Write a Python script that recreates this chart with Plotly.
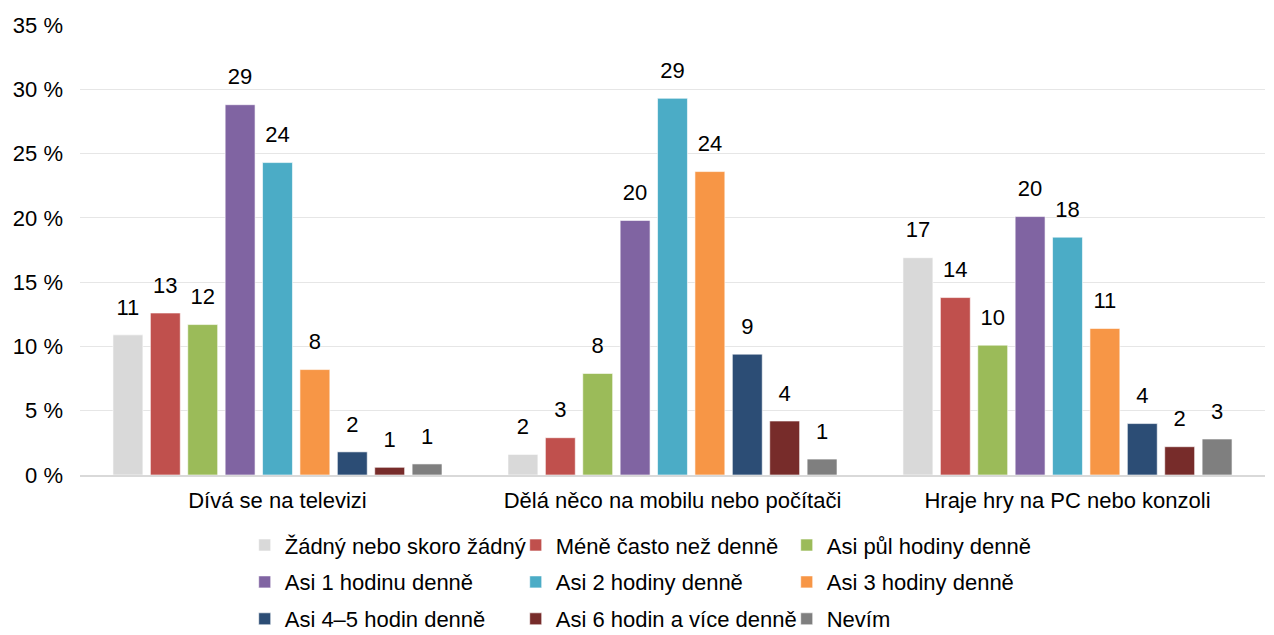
import plotly.graph_objects as go

categories = ["Dívá se na televizi", "Dělá něco na mobilu nebo počítači", "Hraje hry na PC nebo konzoli"]
series_names = [
    "Žádný nebo skoro žádný", "Méně často než denně", "Asi půl hodiny denně",
    "Asi 1 hodinu denně", "Asi 2 hodiny denně", "Asi 3 hodiny denně",
    "Asi 4–5 hodin denně", "Asi 6 hodin a více denně", "Nevím",
]
zadny = [10.9, 1.6, 16.9]
mene = [12.6, 2.9, 13.8]
pul = [11.7, 7.9, 10.1]
h1 = [28.8, 19.8, 20.1]
h2 = [24.3, 29.3, 18.5]
h3 = [8.2, 23.6, 11.4]
h45 = [1.8, 9.4, 4.0]
h6 = [0.6, 4.2, 2.2]
nevim = [0.86, 1.24, 2.8]
series_values = [zadny, mene, pul, h1, h2, h3, h45, h6, nevim]
colors = ["#d9d9d9", "#c0504d", "#9bbb59", "#8064a2", "#4bacc6", "#f79646", "#2c4d75", "#772c2a", "#7f7f7f"]
tick_vals = [0, 5, 10, 15, 20, 25, 30, 35]
tick_text = ["0 %", "5 %", "10 %", "15 %", "20 %", "25 %", "30 %", "35 %"]

FONT = "Liberation Sans, Arial, sans-serif"
FS = 22
GAP = 0.148
fig = go.Figure()
legend_ids = ["legend", "legend", "legend", "legend2", "legend2", "legend2", "legend3", "legend3", "legend3"]
for i, (name, vals, col, lg) in enumerate(zip(series_names, series_values, colors, legend_ids)):
    fig.add_trace(go.Bar(
        x=categories, y=vals, name=name, offsetgroup=str(i),
        marker=dict(color=col, line=dict(color="rgba(255,255,255,0.6)", width=1)),
        legend=lg, hoverinfo="y",
    ))
for i, vals in enumerate(series_values):
    fig.add_trace(go.Scatter(
        x=categories, y=vals, mode="markers+text", offsetgroup=str(i),
        marker=dict(size=22, color="rgba(0,0,0,0)"),
        text=[f"{round(v)}" for v in vals], textposition="top center",
        textfont=dict(family=FONT, size=FS, color="#000"),
        showlegend=False, hoverinfo="skip", cliponaxis=False,
    ))

leg_common = dict(orientation="h", xanchor="left", yanchor="middle", x=0.139,
                  font=dict(family=FONT, size=FS, color="#000"),
                  entrywidth=226, entrywidthmode="pixels", bgcolor="rgba(0,0,0,0)",
                  traceorder="normal", itemwidth=30)
fig.update_layout(
    width=1266, height=627,
    margin=dict(l=72, r=9, t=17, b=160, autoexpand=False),
    paper_bgcolor="white", plot_bgcolor="white",
    barmode="group", bargap=GAP, bargroupgap=0.2,
    scattermode="group", scattergap=GAP,
    font=dict(family=FONT, size=FS, color="#000"),
    xaxis=dict(showline=True, linecolor="#d9d9d9", linewidth=2, ticks="",
               tickfont=dict(family=FONT, size=FS, color="#000"), ticklabelstandoff=5),
    yaxis=dict(range=[0, 35], tickvals=tick_vals, ticktext=tick_text,
               showgrid=True, gridcolor="#e6e6e6", gridwidth=1, zeroline=False,
               ticks="", tickfont=dict(family=FONT, size=FS, color="#000"), ticklabelstandoff=16),
    legend=dict(y=-0.156, **leg_common),
    legend2=dict(y=-0.238, **leg_common),
    legend3=dict(y=-0.32, **leg_common),
    showlegend=True,
)
fig.write_html("out.html")
